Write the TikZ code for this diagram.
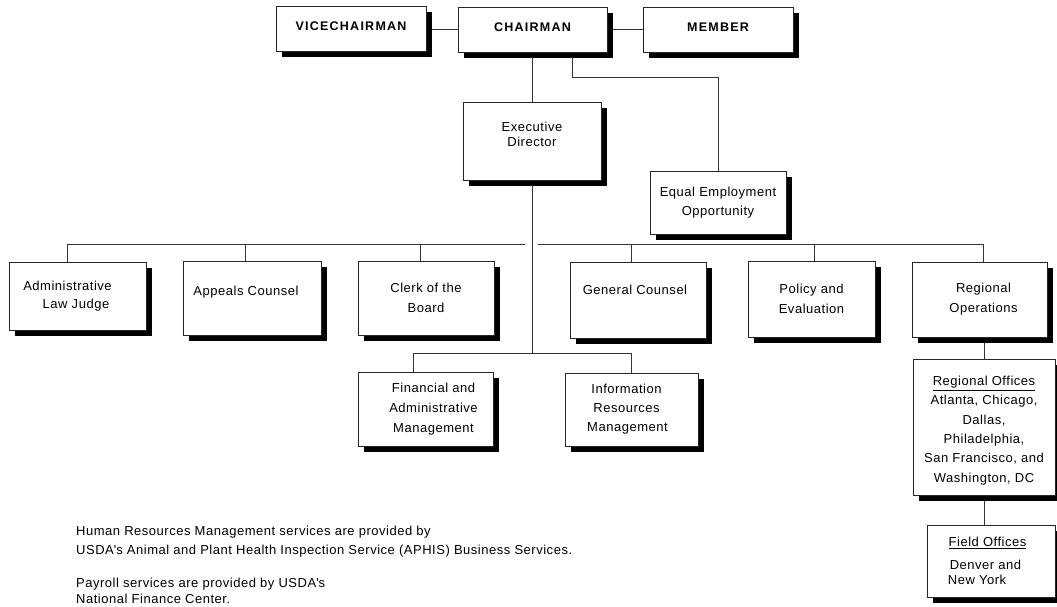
\documentclass[tikz,border=0pt]{standalone}
\usepackage{fontspec}
\setmainfont{Liberation Sans}[LetterSpace=4]
\newfontfamily\titlefont{Liberation Sans}[LetterSpace=10]
\usetikzlibrary{shadows}
\pgfdeclarelayer{background}
\pgfsetlayers{background,main}
\newcommand{\lift}[2]{\raisebox{#1}[\height][\depth]{#2}}
\begin{document}
\begin{tikzpicture}[x=1pt,y=-1pt,
  every node/.style={font=\fontsize{13}{18}\selectfont},
  box/.style={draw=black!85, line width=0.8pt, fill=white, align=center, inner sep=0pt,
    drop shadow={shadow xshift=6pt, shadow yshift=-6pt, opacity=1, fill=black, draw=none}},
  title/.style={box, font=\titlefont\bfseries\fontsize{12.5}{15}\selectfont},
  conn/.style={draw=black!80, line width=0.8pt},
  note/.style={align=left, anchor=north west, inner sep=0pt}
]
\useasboundingbox (0,0) rectangle (1057,607);

% top row
\node[title, minimum width=150, minimum height=45] (vice) at (351,29) {\lift{2.5pt}{VICECHAIRMAN}};
\node[title, minimum width=149, minimum height=45] (chair) at (532.5,29.5) {\lift{2.5pt}{CHAIRMAN}};
\node[title, minimum width=150, minimum height=45] (member) at (718,29.5) {\lift{2pt}{MEMBER}};

% second level
\node[box, minimum width=138, minimum height=78, font=\fontsize{13}{15}\selectfont] (exec) at (532,141)
  {\lift{5pt}{\begin{tabular}{@{}c@{}}Executive\\Director\end{tabular}}};
\node[box, minimum width=136, minimum height=63, font=\fontsize{13}{18.7}\selectfont] (eeo) at (718,202.5)
  {Equal Employment\\Opportunity};

% offices row
\node[box, minimum width=137, minimum height=68, font=\fontsize{13}{18.3}\selectfont] (admin) at (77.5,296)
  {Administrative\hspace{20pt}\mbox{}\\Law Judge\hspace{3pt}\mbox{}};
\node[box, minimum width=138, minimum height=74] (appeals) at (252,298)
  {\lift{6pt}{Appeals Counsel\hspace{12pt}}};
\node[box, minimum width=136, minimum height=74, font=\fontsize{13}{20}\selectfont] (clerk) at (426,298)
  {Clerk of the\\Board};
\node[box, minimum width=136, minimum height=76] (gc) at (638,300)
  {\lift{10pt}{General Counsel\hspace{6pt}}};
\node[box, minimum width=127, minimum height=76, font=\fontsize{13}{20}\selectfont] (policy) at (811.5,299)
  {Policy and\\Evaluation};
\node[box, minimum width=135, minimum height=75, font=\fontsize{13}{20}\selectfont] (regops) at (979.5,299.5)
  {\mbox{}\hspace{8pt}Regional\\\mbox{}\hspace{8pt}Operations};

% lower row
\node[box, minimum width=135, minimum height=74, font=\fontsize{13}{19.7}\selectfont] (fin) at (425.5,409)
  {\mbox{}\hspace{16pt}Financial and\\\mbox{}\hspace{16pt}Administrative\\\mbox{}\hspace{16pt}Management};
\node[box, minimum width=133, minimum height=73, font=\fontsize{13}{19}\selectfont] (info) at (631.5,409.5)
  {Information\hspace{10pt}\mbox{}\\Resources\hspace{10pt}\mbox{}\\Management\hspace{8pt}\mbox{}};

% regional chain
\node[box, minimum width=142, minimum height=136, font=\fontsize{13}{19.3}\selectfont] (regoff) at (984,427)
  {\lift{-3pt}{\begin{tabular}{@{}c@{}}\underline{Regional Offices}\\Atlanta, Chicago,\\Dallas,\\Philadelphia,\\San Francisco, and\\Washington, DC\end{tabular}}};
\node[box, minimum width=128, minimum height=72, font=\fontsize{13}{15}\selectfont] (field) at (991,561)
  {\underline{Field Offices}\hspace{7pt}\mbox{}\\[8pt]Denver and\hspace{11pt}\mbox{}\\New York\hspace{28pt}\mbox{}};

% notes
\node[note, font=\fontsize{13}{19}\selectfont] (note1) at (76,526)
  {Human Resources Management services are provided by\\USDA\textquotesingle s Animal and Plant Health Inspection Service (APHIS) Business Services.};
\node[note, font=\fontsize{13}{16}\selectfont] (note2) at (76,578)
  {Payroll services are provided by USDA\textquotesingle s\\National Finance Center.};

% coordinates
\coordinate (eeoTurn) at (572,77);
\coordinate (busL) at (67,244);
\coordinate (busGapL) at (525,244);
\coordinate (busGapR) at (538,244);
\coordinate (busR) at (983.5,244);
\coordinate (dApp) at (245,244);
\coordinate (dClerk) at (420,244);
\coordinate (dGc) at (631,244);
\coordinate (dPol) at (814,244);
\coordinate (finBus) at (532,353);
\coordinate (finL) at (413,353);

\begin{pgfonlayer}{background}
\draw[conn] (vice.east) -- (vice.east -| chair.west);
\draw[conn] (chair.east) -- (chair.east -| member.west);
\draw[conn] (exec.north |- chair.south) -- (exec.north);
\draw[conn] (chair.south -| eeoTurn) -- (eeoTurn) -- (eeoTurn -| eeo.north) -- (eeo.north);
\draw[conn] (busL) -- (busGapL);
\draw[conn] (busGapR) -- (busR);
\draw[conn] (busL) -- (busL |- admin.north);
\draw[conn] (dApp) -- (dApp |- appeals.north);
\draw[conn] (dClerk) -- (dClerk |- clerk.north);
\draw[conn] (dGc) -- (dGc |- gc.north);
\draw[conn] (dPol) -- (dPol |- policy.north);
\draw[conn] (busR) -- (busR |- regops.north);
\draw[conn] (exec.south) -- (finBus);
\draw[conn] (finL) -- (finL -| info.north) -- (info.north);
\draw[conn] (finL) -- (finL |- fin.north);
\draw[conn] (regoff.north |- regops.south) -- (regoff.north);
\draw[conn] (regoff.south) -- (regoff.south |- field.north);
\end{pgfonlayer}
\end{tikzpicture}
\end{document}
